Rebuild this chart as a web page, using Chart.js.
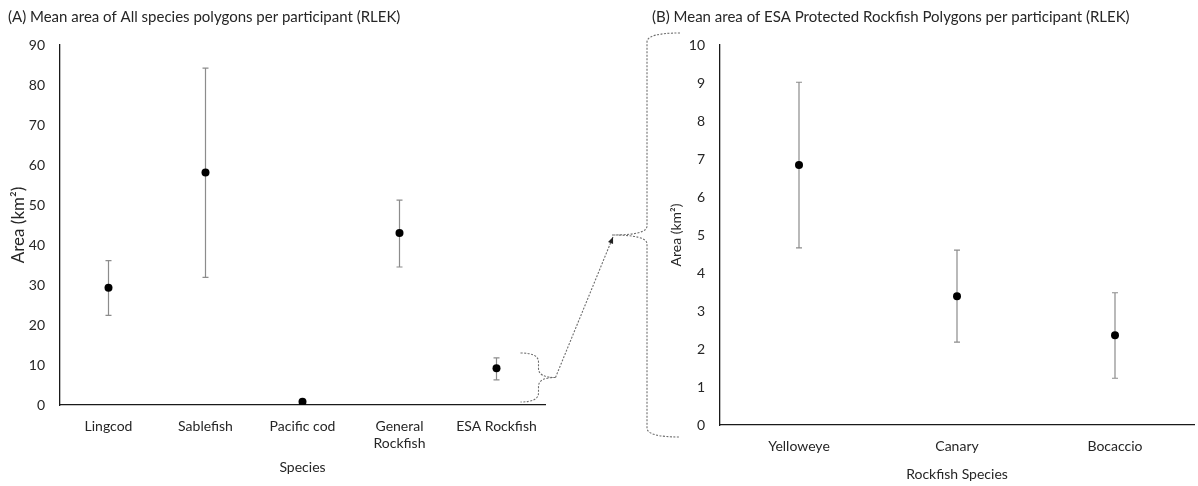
<!DOCTYPE html>
<html>
<head>
<meta charset="utf-8">
<script src="https://cdn.jsdelivr.net/npm/chart.js@4/dist/chart.umd.min.js"></script>
<style>
  html, body { margin: 0; padding: 0; background: #fff; }
  #wrap { position: relative; width: 1198px; height: 486px; overflow: hidden; }
  #chartA { position: absolute; left: 0; top: 0; }
  #chartB { position: absolute; left: 652px; top: 0; }
  #overlay { position: absolute; left: 0; top: 0; pointer-events: none; }
</style>
</head>
<body>
<div id="wrap">
  <canvas id="chartA" width="600" height="486"></canvas>
  <canvas id="chartB" width="546" height="486"></canvas>
  <canvas id="overlay" width="1198" height="486"></canvas>
</div>
<script>
// (A) all species
const speciesLabels = ['Lingcod', 'Sablefish', 'Pacific cod', ['General', 'Rockfish'], 'ESA Rockfish'];
const speciesMean = [29.3, 58.1, 0.8, 43.0, 9.2];
const speciesLow = [22.4, 31.9, 0.6, 34.5, 6.3];
const speciesHigh = [36.1, 84.2, 1.0, 51.2, 11.8];

// (B) ESA protected rockfish
const rockfishLabels = ['Yelloweye', 'Canary', 'Bocaccio'];
const rockfishMean = [6.84, 3.39, 2.36];
const rockfishLow = [4.66, 2.18, 1.23];
const rockfishHigh = [9.02, 4.60, 3.48];

const yTicksA = { min: 0, max: 90, step: 10 };
const yTicksB = { min: 0, max: 10, step: 1 };

const FONT = 'Lato';
const TEXT = '#262626';
const B_LEFT = 652; // page offset of chart B canvas

Chart.defaults.font.family = FONT;
Chart.defaults.color = TEXT;

// draws vertical error bars with small caps behind the points
const errorBars = {
    id: 'errorBars',
    beforeDatasetsDraw(chart, args, opts) {
        const { ctx, scales: { y } } = chart;
        const meta = chart.getDatasetMeta(0);
        ctx.save();
        ctx.strokeStyle = '#8c8c8c';
        ctx.lineWidth = 1.2;
        opts.low.forEach((lo, i) => {
            const px = meta.data[i].x;
            const yLo = y.getPixelForValue(lo);
            const yHi = y.getPixelForValue(opts.high[i]);
            ctx.beginPath();
            ctx.moveTo(px, yLo); ctx.lineTo(px, yHi);
            ctx.moveTo(px - 3, yLo); ctx.lineTo(px + 3, yLo);
            ctx.moveTo(px - 3, yHi); ctx.lineTo(px + 3, yHi);
            ctx.stroke();
        });
        ctx.restore();
    }
};

let chartA = null, chartB = null;

function brace(ctx, xOpen, xMid, xTip, yTop, yBot) {
    const yc = (yTop + yBot) / 2;
    const r = 9;
    ctx.beginPath();
    ctx.moveTo(xOpen, yTop);
    ctx.quadraticCurveTo(xMid, yTop, xMid, yTop + r);
    ctx.lineTo(xMid, yc - r);
    ctx.quadraticCurveTo(xMid, yc, xTip, yc);
    ctx.moveTo(xTip, yc);
    ctx.quadraticCurveTo(xMid, yc, xMid, yc + r);
    ctx.lineTo(xMid, yBot - r);
    ctx.quadraticCurveTo(xMid, yBot, xOpen, yBot);
    ctx.stroke();
    return yc;
}

function drawOverlay() {
    if (!chartA || !chartB || !chartA.scales.y || !chartB.scales.y) return;
    const ctx = document.getElementById('overlay').getContext('2d');
    ctx.clearRect(0, 0, 1198, 486);
    ctx.save();
    ctx.strokeStyle = '#6e6e6e';
    ctx.lineWidth = 1.1;
    ctx.setLineDash([2, 1.5]);

    // small brace round the ESA Rockfish point
    const esa = chartA.getDatasetMeta(0).data[4].x;
    const yA = chartA.scales.y;
    const smallTip = esa + 59;
    const smallY = brace(ctx, esa + 24, esa + 42, smallTip, yA.getPixelForValue(13), yA.getPixelForValue(0) - 3);

    // large brace along the whole (B) axis
    const axisB = B_LEFT + chartB.chartArea.left;
    const yB = chartB.scales.y;
    const bigTip = axisB - 108;
    const bigY = brace(ctx, axisB - 40, axisB - 73, bigTip, yB.getPixelForValue(10) - 12, yB.getPixelForValue(0) + 12);

    // dashed arrow from the small brace to the large one
    const ax = bigTip + 1, ay = bigY + 2;
    ctx.beginPath();
    ctx.moveTo(smallTip, smallY);
    ctx.lineTo(ax, ay);
    ctx.stroke();
    const ang = Math.atan2(ay - smallY, ax - smallTip);
    ctx.setLineDash([]);
    ctx.fillStyle = '#222';
    ctx.beginPath();
    ctx.moveTo(ax, ay);
    ctx.lineTo(ax - 7 * Math.cos(ang - 0.4), ay - 7 * Math.sin(ang - 0.4));
    ctx.lineTo(ax - 7 * Math.cos(ang + 0.4), ay - 7 * Math.sin(ang + 0.4));
    ctx.closePath();
    ctx.fill();
    ctx.restore();
}

const overlayHook = { id: 'overlayHook', afterRender() { drawOverlay(); } };

function makeOptions(cfg) {
    return {
        responsive: false,
        animation: false,
        layout: { padding: cfg.padding },
        plugins: {
            legend: { display: false },
            tooltip: { enabled: false },
            title: {
                display: true,
                text: cfg.title,
                align: 'start',
                color: TEXT,
                font: { family: FONT, size: 15, weight: 'normal' },
                padding: { top: 8, bottom: 19 }
            },
            errorBars: { low: cfg.low, high: cfg.high }
        },
        scales: {
            x: {
                type: 'category',
                offset: true,
                grid: { display: false, drawTicks: false },
                border: { display: true, color: '#1a1a1a', width: 1.3 },
                ticks: { color: TEXT, font: { size: 14 }, padding: 13, maxRotation: 0, autoSkip: false },
                title: { display: true, text: cfg.xTitle, color: TEXT, font: { size: 14 }, padding: { top: 0, bottom: cfg.xTitlePad } },
                afterFit: s => { s.height = cfg.xHeight; }
            },
            y: {
                min: cfg.ticks.min,
                max: cfg.ticks.max,
                grid: { display: false, drawTicks: false },
                border: { display: true, color: '#1a1a1a', width: 1.3 },
                ticks: { stepSize: cfg.ticks.step, color: TEXT, font: { size: 14 }, padding: 15 },
                title: { display: true, text: 'Area (km²)', color: TEXT, font: { size: cfg.yTitleSize }, padding: { top: cfg.yTitlePad, bottom: 0 } },
                afterFit: s => { s.width = cfg.yWidth; }
            }
        }
    };
}

function pointData(values) {
    return [{
        data: values,
        showLine: false,
        pointRadius: 4,
        pointBackgroundColor: '#000',
        pointBorderColor: '#000',
        pointBorderWidth: 0
    }];
}

chartA = new Chart(document.getElementById('chartA'), {
    type: 'line',
    data: { labels: speciesLabels, datasets: pointData(speciesMean) },
    options: makeOptions({
        title: '(A) Mean area of All species polygons per participant (RLEK)',
        padding: { left: 8, right: 55, top: 0, bottom: 0 },
        low: speciesLow, high: speciesHigh,
        ticks: yTicksA,
        xTitle: 'Species', xTitlePad: 10, xHeight: 81,
        yTitleSize: 17, yTitlePad: 0, yWidth: 52
    }),
    plugins: [errorBars, overlayHook]
});

chartB = new Chart(document.getElementById('chartB'), {
    type: 'line',
    data: { labels: rockfishLabels, datasets: pointData(rockfishMean) },
    options: makeOptions({
        title: '(B) Mean area of ESA Protected Rockfish Polygons per participant (RLEK)',
        padding: { left: 0, right: 0, top: 0, bottom: 0 },
        low: rockfishLow, high: rockfishHigh,
        ticks: yTicksB,
        xTitle: 'Rockfish Species', xTitlePad: 3.5, xHeight: 61,
        yTitleSize: 14, yTitlePad: 15.6, yWidth: 68
    }),
    plugins: [errorBars, overlayHook]
});

drawOverlay();
</script>
</body>
</html>
